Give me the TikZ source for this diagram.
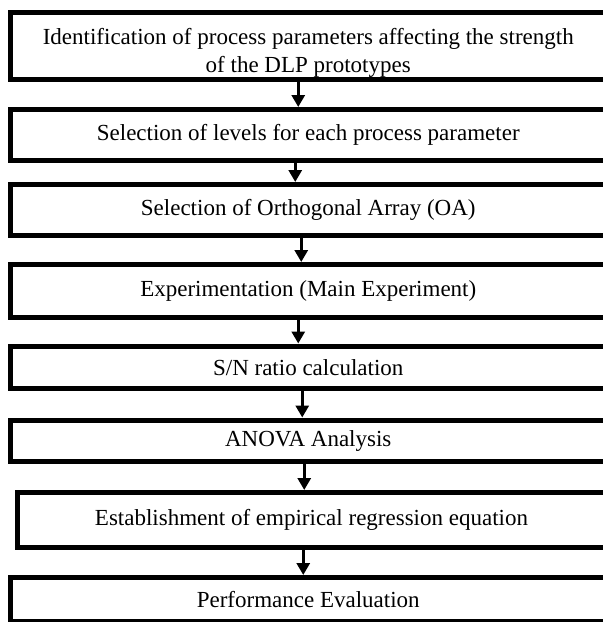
\documentclass[tikz,border=0pt]{standalone}
\usepackage{fontspec}
\setmainfont{Liberation Serif}
\usepackage{tikz}
\usetikzlibrary{positioning, arrows.meta}

\tikzset{
	procbox/.style={draw, line width=5pt, rectangle, minimum width=595.5pt, inner sep=0pt, align=center, font=\fontsize{23}{26}\selectfont},
	flow/.style={line width=3pt, -{Triangle[length=12pt, width=13pt]}}
}

\begin{document}
\begin{tikzpicture}[x=1pt, y=-1pt]
		\useasboundingbox (0,0) rectangle (603,622);
		\clip (0,0) rectangle (603,622);
		
		\node[procbox, minimum height=67pt, font=\fontsize{23}{28}\selectfont] (s1) at (308.25,46) {\rule{0pt}{29pt}Identification of process parameters affecting the strength\\of the DLP prototypes};
		\node[procbox, minimum height=51pt, below=25pt of s1] (s2) {Selection of levels for each process parameter};
		\node[procbox, minimum height=50.5pt, below=19pt of s2] (s3) {Selection of Orthogonal Array (OA)};
		\node[procbox, minimum height=53pt, below=24.5pt of s3] (s4) {Experimentation (Main Experiment)};
		\node[procbox, minimum height=42.5pt, below=23.5pt of s4] (s5) {S/N ratio calculation};
		\node[procbox, minimum height=41.5pt, below=26.5pt of s5] (s6) {ANOVA Analysis};
		\node[procbox, minimum height=55pt, minimum width=589pt, below=26pt of s6, xshift=3.25pt] (s7) {Establishment of empirical regression equation};
		\node[procbox, minimum height=43.5pt, below=25pt of s7, xshift=-3.25pt] (s8) {Performance Evaluation};
		
		\draw[flow] ([xshift=-10pt]s1.south) -- ([xshift=-10pt]s2.north);
		\draw[flow] ([xshift=-13pt]s2.south) -- ([xshift=-13pt]s3.north);
		\draw[flow] ([xshift=-7pt]s3.south) -- ([xshift=-7pt]s4.north);
		\draw[flow] ([xshift=-10pt]s4.south) -- ([xshift=-10pt]s5.north);
		\draw[flow] ([xshift=-6pt]s5.south) -- ([xshift=-6pt]s6.north);
		\draw[flow] ([xshift=-4pt]s6.south) -- ([xshift=-7.25pt]s7.north);
		\draw[flow] ([xshift=-8.25pt]s7.south) -- ([xshift=-5pt]s8.north);
		
	\end{tikzpicture}
\end{document}
